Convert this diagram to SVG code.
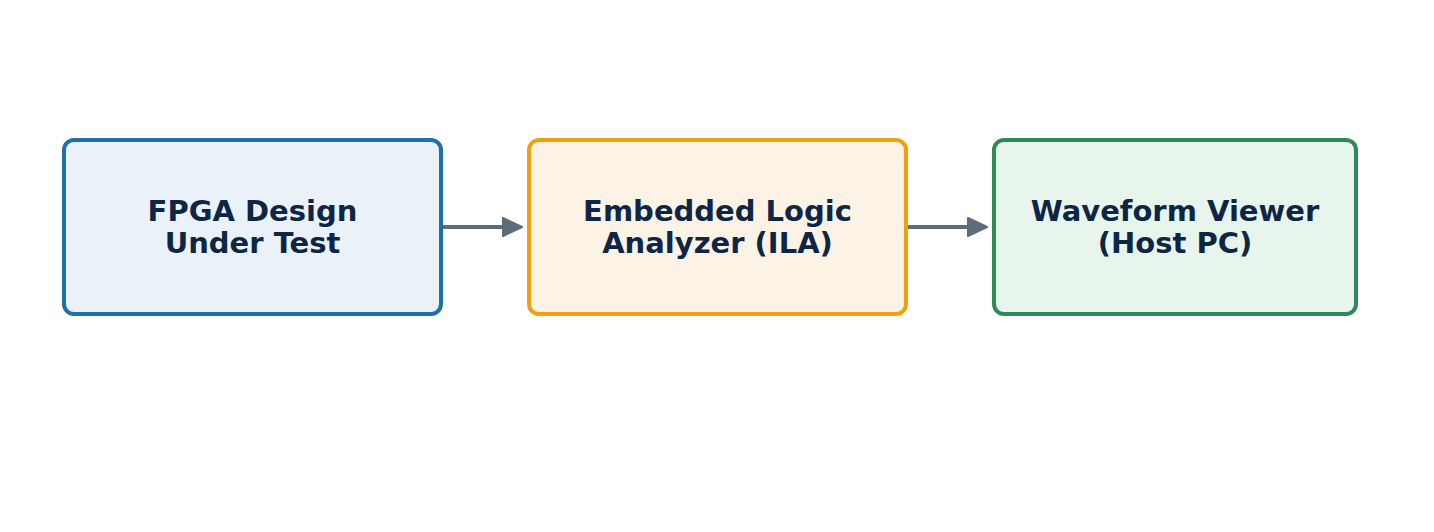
<svg xmlns="http://www.w3.org/2000/svg" width="1434" height="532" viewBox="0 0 1434 532">
<defs>
<style>
.box{stroke-width:4}
.lbl{font-family:"DejaVu Sans",sans-serif;font-weight:bold;font-size:29px;fill:#0d2645;text-anchor:middle}
.conn{stroke:#5d6b7a;stroke-width:4;fill:none}
</style>
<marker id="ah" markerWidth="24" markerHeight="24" refX="2" refY="11" orient="auto" markerUnits="userSpaceOnUse">
<path d="M2,2 L21,11 L2,20 Z" fill="#5d6b7a" stroke="#5d6b7a" stroke-width="2" stroke-linejoin="round"/>
</marker>
</defs>
<rect width="1434" height="532" fill="#ffffff"/>
<g id="connectors">
<line class="conn" x1="443" y1="227" x2="503" y2="227" marker-end="url(#ah)"/>
<line class="conn" x1="908" y1="227" x2="968" y2="227" marker-end="url(#ah)"/>
</g>
<g id="node-fpga">
<rect class="box" x="64" y="140" width="377" height="174" rx="10" fill="#eaf1f8" stroke="#1f6fa8"/>
<text class="lbl" x="252.5" y="221">FPGA Design</text>
<text class="lbl" x="252.5" y="253">Under Test</text>
</g>
<g id="node-ila">
<rect class="box" x="529" y="140" width="377" height="174" rx="10" fill="#fdf2e6" stroke="#f0a00c"/>
<text class="lbl" x="717.5" y="221">Embedded Logic</text>
<text class="lbl" x="717.5" y="253">Analyzer (ILA)</text>
</g>
<g id="node-viewer">
<rect class="box" x="994" y="140" width="362" height="174" rx="10" fill="#e8f5ec" stroke="#2e8a57"/>
<text class="lbl" x="1175" y="221">Waveform Viewer</text>
<text class="lbl" x="1175" y="253">(Host PC)</text>
</g>
</svg>
